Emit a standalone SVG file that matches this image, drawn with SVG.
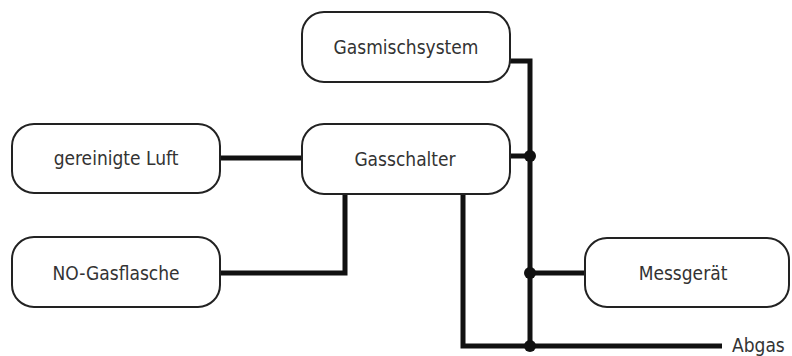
<svg xmlns="http://www.w3.org/2000/svg" width="792" height="356" viewBox="0 0 792 356">
<style>
.box{fill:#fff;stroke:#222;stroke-width:2}
.lbl{font-family:"DejaVu Sans Condensed","DejaVu Sans",sans-serif;font-size:19px;fill:#333;text-anchor:middle}
.wire{fill:none;stroke:#111;stroke-width:5;stroke-linejoin:miter;stroke-linecap:butt}
.dot{fill:#111}
</style>
<rect width="792" height="356" fill="#fff"/>
<g id="connectors">
<path class="wire" d="M510 61 H530 V346"/>
<path class="wire" d="M220 158 H302"/>
<path class="wire" d="M510 156 H530"/>
<path class="wire" d="M220 273 H345 V194"/>
<path class="wire" d="M463 194 V346 H722"/>
<path class="wire" d="M530 273 H585"/>
<circle class="dot" cx="530" cy="156" r="6"/>
<circle class="dot" cx="530" cy="273" r="6"/>
<circle class="dot" cx="530" cy="346" r="6"/>
<text class="lbl" x="732" y="352" style="text-anchor:start">Abgas</text>
</g>
<g id="gasmischsystem">
<rect class="box" x="302" y="12" width="208" height="70" rx="22"/>
<text class="lbl" x="406" y="54">Gasmischsystem</text>
</g>
<g id="gereinigte-luft">
<rect class="box" x="12" y="124" width="208" height="69" rx="22"/>
<text class="lbl" x="116" y="165">gereinigte Luft</text>
</g>
<g id="gasschalter">
<rect class="box" x="302" y="124" width="208" height="70" rx="22"/>
<text class="lbl" x="405" y="166">Gasschalter</text>
</g>
<g id="no-gasflasche">
<rect class="box" x="12" y="237" width="208" height="70" rx="22"/>
<text class="lbl" x="116" y="280">NO-Gasflasche</text>
</g>
<g id="messgeraet">
<rect class="box" x="585" y="238" width="204" height="69" rx="22"/>
<text class="lbl" x="683" y="280">Messgerät</text>
</g>
</svg>
